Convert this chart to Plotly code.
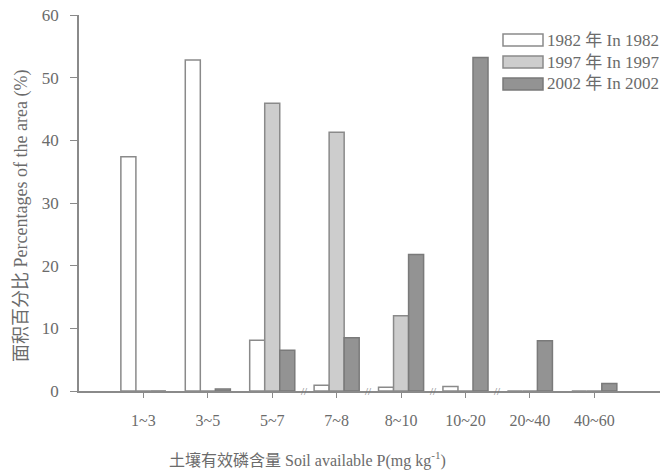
import plotly.graph_objects as go

categories = ["1~3", "3~5", "5~7", "7~8", "8~10", "10~20", "20~40", "40~60"]
y1982 = [37.4, 52.8, 8.1, 0.9, 0.6, 0.7, 0, 0]
y1997 = [0, 0, 45.9, 41.3, 12.0, 0, 0, 0]
y2002 = [0, 0.3, 6.5, 8.5, 21.8, 53.2, 8.0, 1.2]
series_names = ["1982 年 In 1982", "1997 年 In 1997", "2002 年 In 2002"]
y_ticks = [0, 10, 20, 30, 40, 50, 60]
break_positions = [2.5, 3.5, 4.5, 5.5]

FONT = "Liberation Serif, Noto Sans CJK SC, serif"
TXT = "#6b6b6b"
AX = "#8a8a8a"
fills = ["#ffffff", "#cdcdcd", "#939393"]
lines = ["#8a8a8a", "#8a8a8a", "#7a7a7a"]

# page body has an 8px margin; figure sized/placed to compensate
OFF = 8
W, H = 670 - OFF, 472 - OFF
L, T = 79 - OFF, 15 - OFF
PW, PH = 581, 376
R = W - L - PW
B = H - T - PH


def px_x(px):
    return (px - 79) / PW


def px_y(py):
    return (391 - py) / PH


fig = go.Figure()
for name, vals, fc, lc in zip(series_names, [y1982, y1997, y2002], fills, lines):
    fig.add_trace(go.Bar(x=categories, y=vals, name=name,
                         marker=dict(color=fc, line=dict(color=lc, width=1.5)),
                         showlegend=False))

fig.update_layout(
    width=W, height=H,
    margin=dict(l=L, r=R, t=T, b=B, pad=0, autoexpand=False),
    paper_bgcolor="white", plot_bgcolor="white",
    barmode="group", bargap=0.30, bargroupgap=0,
    font=dict(family=FONT, color=TXT, size=16),
    xaxis=dict(type="category", range=[-1, 8.02], showgrid=False,
               showline=True, linecolor=AX, linewidth=1.5, automargin=False,
               ticks="outside", ticklen=5, tickcolor=AX, tickwidth=1,
               ticklabelstandoff=9, ticklabeloverflow="allow",
               tickfont=dict(family=FONT, size=16, color=TXT)),
    yaxis=dict(range=[0, 60], tickvals=y_ticks, showgrid=False, zeroline=False,
               showline=True, linecolor=AX, linewidth=1.5, automargin=False,
               ticks="outside", ticklen=7, tickcolor=AX, tickwidth=1,
               ticklabelstandoff=8, ticklabeloverflow="allow",
               tickfont=dict(family=FONT, size=17, color=TXT)),
)

# axis break marks
for bp in break_positions:
    fig.add_annotation(x=bp, y=0, xref="x", yref="y", text="//", showarrow=False,
                       font=dict(size=11, color="#777777", family=FONT),
                       yanchor="middle")

# axis titles
fig.add_annotation(x=px_x(22), y=px_y(216), xref="paper", yref="paper",
                   text="面积百分比 Percentages of the area (%)", textangle=-90,
                   showarrow=False, font=dict(family=FONT, size=18, color=TXT),
                   xanchor="center", yanchor="middle")
fig.add_annotation(x=px_x(307), y=px_y(459), xref="paper", yref="paper",
                   text="土壤有效磷含量 Soil available P(mg kg<sup>-1</sup>)",
                   showarrow=False, font=dict(family=FONT, size=16, color=TXT),
                   xanchor="center", yanchor="middle")

# custom legend
leg_y = [40, 62, 84]
for name, fc, lc, py in zip(series_names, fills, lines, leg_y):
    fig.add_shape(type="rect", xref="paper", yref="paper",
                  x0=px_x(503), x1=px_x(543), y0=px_y(py + 6), y1=px_y(py - 6),
                  fillcolor=fc, line=dict(color=lc, width=1.5))
    fig.add_annotation(x=px_x(545), y=px_y(py), xref="paper", yref="paper",
                       text=name, showarrow=False, xanchor="left", yanchor="middle",
                       font=dict(family=FONT, size=17, color=TXT))

fig.write_html("out.html")
